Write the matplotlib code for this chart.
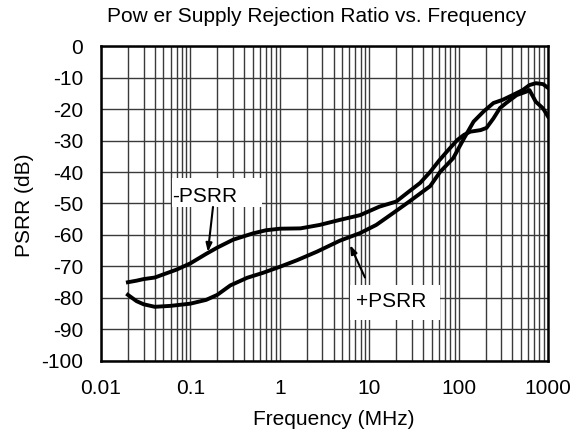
"""PSRR vs frequency: -PSRR and +PSRR curves on log frequency axis."""
import numpy as np
import matplotlib
matplotlib.use('Agg')
import matplotlib.pyplot as plt
from matplotlib.patches import Rectangle
from matplotlib.ticker import LogLocator, FixedLocator, NullFormatter

plt.rcParams['font.family'] = ['Liberation Sans', 'DejaVu Sans']

# -PSRR (upper curve at low frequency)
neg_f = [0.02, 0.025, 0.03, 0.04, 0.05, 0.07, 0.1, 0.15, 0.2, 0.3, 0.5, 0.7,
         1.0, 1.7, 2.8, 4.7, 7.9, 13, 20, 27, 37, 48, 60, 74, 97, 115, 135,
         176, 205, 245, 290, 340, 445, 570, 620, 730, 880, 1000]
neg_db = [-75, -74.5, -74, -73.5, -72.5, -71, -69, -66, -64, -61.5, -59.5, -58.5,
          -58, -57.9, -56.8, -55.2, -53.7, -51, -49.4, -46.5, -43.5, -40, -36.5,
          -33.5, -29.8, -28.2, -27.2, -26.7, -26, -23, -19.7, -18.1, -15.6, -14.5,
          -14, -17.7, -19.8, -22.4]

# +PSRR (lower curve at low frequency)
pos_f = [0.02, 0.025, 0.03, 0.04, 0.06, 0.1, 0.15, 0.2, 0.28, 0.43, 0.65, 1.0,
         1.56, 2.6, 4.7, 7.9, 12, 18.6, 28, 48, 62, 87, 115, 147, 190, 245, 310,
         400, 520, 620, 730, 880, 1000]
pos_db = [-79, -81, -82, -82.8, -82.5, -81.8, -80.6, -79, -76, -73.6, -72, -70.1,
          -68, -65.3, -61.8, -59.4, -56.8, -53, -49.4, -44.5, -40, -35.6, -29.3,
          -24, -20.8, -18.1, -17.1, -15.6, -14, -12.4, -11.8, -12.1, -13.3]

x_ticks = [0.01, 0.1, 1, 10, 100, 1000]
x_labels = ['0.01', '0.1', '1', '10', '100', '1000']
y_ticks = list(range(-100, 1, 10))

FS = 15

fig = plt.figure(figsize=(5.85, 4.45), dpi=100)
ax = fig.add_axes([0.1726, 0.1888, 0.9368 - 0.1726, 0.8966 - 0.1888])

ax.plot(neg_f, neg_db, '-', color='black', linewidth=2.8, zorder=3)
ax.plot(pos_f, pos_db, '-', color='black', linewidth=2.8, zorder=3)

ax.set_xscale('log')
ax.set_xlim(0.01, 1000)
ax.set_ylim(-100, 0)
ax.xaxis.set_major_locator(FixedLocator(x_ticks))
ax.set_xticklabels(x_labels)
ax.xaxis.set_minor_locator(LogLocator(base=10, subs=np.arange(2, 10)))
ax.xaxis.set_minor_formatter(NullFormatter())
ax.set_yticks(y_ticks)
ax.set_yticklabels([str(v) for v in y_ticks])

ax.grid(which='both', axis='x', color='#3a3a3a', linewidth=1.0)
ax.grid(which='major', axis='y', color='#3a3a3a', linewidth=1.0)
ax.tick_params(which='both', length=0, labelsize=FS)
ax.tick_params(axis='x', pad=13)
ax.tick_params(axis='y', pad=13)
for s in ax.spines.values():
    s.set_linewidth(1.8)
    s.set_color('black')
    s.set_zorder(4)

fig.text(0.542, 0.962, 'Pow er Supply Rejection Ratio vs. Frequency', fontsize=FS,
         ha='center', va='center')
fig.text(0.571, 0.0562, 'Frequency (MHz)', fontsize=FS, ha='center', va='center')
fig.text(0.0427, 0.539, 'PSRR (dB)', fontsize=FS, ha='center', va='center', rotation=90)

# label boxes (white, no border) hiding the grid
for bx, by, bh in [(0.1588, 0.4889, 0.0921), (0.557, 0.1302, 0.111)]:
    ax.add_patch(Rectangle((bx, by), 0.2013, bh, transform=ax.transAxes,
                           facecolor='white', edgecolor='none', zorder=5))
ax.text(0.160, 0.5048, '-PSRR', transform=ax.transAxes, fontsize=FS,
        ha='left', va='baseline', zorder=6)
ax.text(0.5705, 0.1714, '+PSRR', transform=ax.transAxes, fontsize=FS,
        ha='left', va='baseline', zorder=6)

arrow = dict(arrowstyle='-|>,head_length=0.5,head_width=0.18', color='black', lw=1.5,
             shrinkA=0, shrinkB=0)
ax.annotate('', xy=(0.157, -65.4), xytext=(0.179, -51.1), arrowprops=arrow, zorder=6)
ax.annotate('', xy=(6.1, -63.2), xytext=(8.97, -73.5), arrowprops=arrow, zorder=6)

fig.savefig('out.png', dpi=100)
